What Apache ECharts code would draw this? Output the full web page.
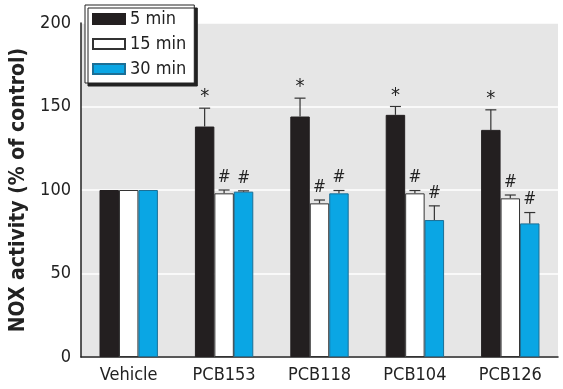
<!DOCTYPE html>
<html>
<head>
<meta charset="utf-8">
<script src="https://cdn.jsdelivr.net/npm/echarts@6/dist/echarts.min.js"></script>
<style>
  html, body { margin: 0; padding: 0; background: #fff; }
  #chart { width: 563px; height: 389px; }
</style>
</head>
<body>
<div id="chart"></div>
<script>
var categories = ["Vehicle", "PCB153", "PCB118", "PCB104", "PCB126"];
var seriesNames = ["5 min", "15 min", "30 min"];
var mean5 = [100, 138, 144, 145, 136];
var mean15 = [100, 98, 92, 98, 95];
var mean30 = [100, 99, 98, 82, 80];
var upper5 = [100, 149, 155, 150, 148];
var upper15 = [100, 100, 94, 99.7, 97];
var upper30 = [100, 99.5, 99.7, 90.5, 86.5];
var marks5 = ["", "*", "*", "*", "*"];
var marks15 = ["", "#", "#", "#", "#"];
var marks30 = ["", "#", "#", "#", "#"];
var yTicks = [0, 50, 100, 150, 200];

var font = "'Liberation Sans Narrow', 'DejaVu Sans Condensed', sans-serif";
var colors = ["#231f20", "#ffffff", "#0aa6e4"];
var borders = ["#231f20", "#333333", "#1b6f96"];
var means = [mean5, mean15, mean30];
var uppers = [upper5, upper15, upper30];
var marks = [marks5, marks15, marks30];
var barFrac = 0.204;

function errRender(k) {
  return function (params, api) {
    var i = api.value(0);
    var m = api.value(1);
    var u = api.value(2);
    var band = api.size([1, 0])[0];
    var off = (k - 1) * band * barFrac;
    var pm = api.coord([i, m]);
    var pu = api.coord([i, u]);
    var x = pm[0] + off;
    var children = [];
    if (u > m) {
      children.push({
        type: "line",
        shape: { x1: x, y1: pm[1], x2: x, y2: pu[1] },
        style: { stroke: "#333", lineWidth: 1.2 }
      });
      children.push({
        type: "line",
        shape: { x1: x - 5.5, y1: pu[1], x2: x + 5.5, y2: pu[1] },
        style: { stroke: "#333", lineWidth: 1.2 }
      });
    }
    var txt = marks[k][params.dataIndex];
    if (txt) {
      children.push({
        type: "text",
        x: x,
        y: pu[1] - (txt === "*" ? 1 : 4),
        style: {
          text: txt,
          fill: "#222",
          font: (txt === "*" ? "20px " : "italic 17px ") + font,
          textAlign: "center",
          textVerticalAlign: "bottom"
        }
      });
    }
    return { type: "group", children: children };
  };
}

var series = [];
seriesNames.forEach(function (name, k) {
  series.push({
    name: name,
    type: "bar",
    data: means[k],
    barWidth: (barFrac * 100) + "%",
    barGap: "0%",
    itemStyle: { color: colors[k], borderColor: borders[k], borderWidth: 1 },
    z: 2
  });
});
seriesNames.forEach(function (name, k) {
  series.push({
    name: name + " err",
    type: "custom",
    renderItem: errRender(k),
    data: categories.map(function (c, i) { return [i, means[k][i], uppers[k][i]]; }),
    encode: { x: 0, y: [1, 2] },
    z: 3,
    silent: true
  });
});

var chart = echarts.init(document.getElementById("chart"));
chart.setOption({
  animation: false,
  textStyle: { fontFamily: font },
  legend: {
    data: seriesNames,
    icon: "rect",
    orient: "vertical",
    left: 85,
    top: 5,
    itemWidth: 32,
    itemHeight: 10,
    itemGap: 7,
    padding: [5, 8, 5, 7],
    backgroundColor: "#fff",
    borderColor: "#222",
    borderWidth: 1,
    shadowColor: "#222",
    shadowBlur: 0,
    shadowOffsetX: 3,
    shadowOffsetY: 3,
    textStyle: { fontSize: 18, color: "#222", fontFamily: font }
  },
  grid: {
    left: 80,
    right: 5,
    top: 23,
    bottom: 32,
    show: true,
    backgroundColor: "#e6e6e6",
    borderWidth: 0
  },
  xAxis: {
    type: "category",
    data: categories,
    axisLine: { lineStyle: { color: "#222", width: 1.5 } },
    axisTick: { show: false },
    axisLabel: { fontSize: 18, color: "#222", margin: 9, fontFamily: font }
  },
  yAxis: {
    type: "value",
    min: yTicks[0],
    max: yTicks[yTicks.length - 1],
    interval: 50,
    name: "NOX activity (% of control)",
    nameLocation: "middle",
    nameGap: 52,
    nameTextStyle: { fontSize: 21, fontWeight: "bold", color: "#222", fontFamily: font },
    axisLine: { show: true, lineStyle: { color: "#222", width: 1.5 } },
    axisTick: { show: false },
    axisLabel: { fontSize: 18, color: "#222", margin: 10, fontFamily: font },
    splitLine: { show: true, lineStyle: { color: "#ffffff", width: 1.5 } }
  },
  series: series
});
</script>
</body>
</html>
